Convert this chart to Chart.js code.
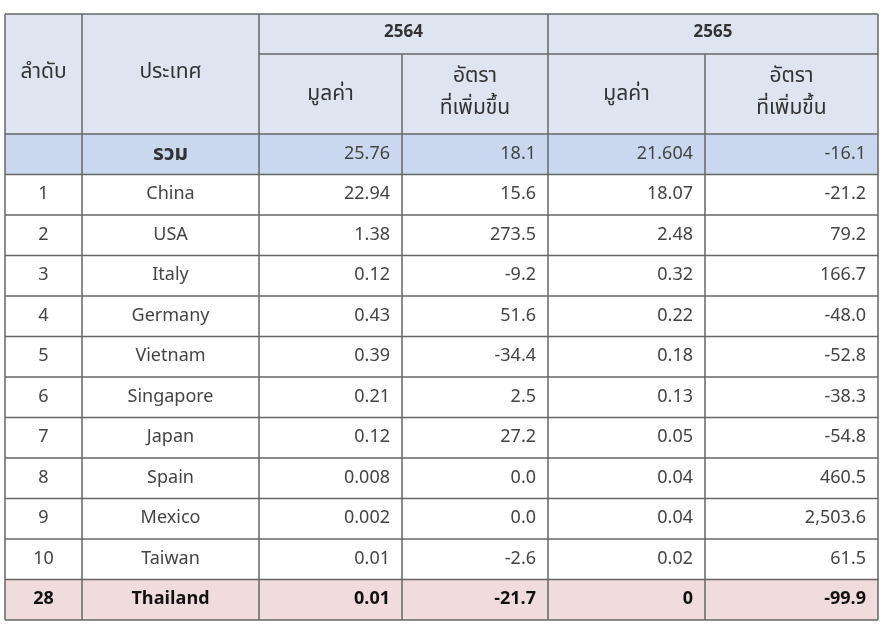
<!DOCTYPE html>
<html><head><meta charset="utf-8">
<script src="https://cdn.jsdelivr.net/npm/chart.js@4/dist/chart.umd.min.js"></script>
<style>html,body{margin:0;padding:0;background:#fff}</style>
</head><body>
<canvas id="c" width="884" height="627"></canvas>
<script>
const ranks = ["", "1","2","3","4","5","6","7","8","9","10","28"];
const countries = ["รวม","China","USA","Italy","Germany","Vietnam","Singapore","Japan","Spain","Mexico","Taiwan","Thailand"];
const value2564 = ["25.76","22.94","1.38","0.12","0.43","0.39","0.21","0.12","0.008","0.002","0.01","0.01"];
const growth2564 = ["18.1","15.6","273.5","-9.2","51.6","-34.4","2.5","27.2","0.0","0.0","-2.6","-21.7"];
const value2565 = ["21.604","18.07","2.48","0.32","0.22","0.18","0.13","0.05","0.04","0.04","0.02","0"];
const growth2565 = ["-16.1","-21.2","79.2","166.7","-48.0","-52.8","-38.3","-54.8","460.5","2,503.6","61.5","-99.9"];
const years = ["2564","2565"];
const headRank = "ลำดับ", headCountry = "ประเทศ", headValue = "มูลค่า", headGrowth = ["อัตรา","ที่เพิ่มขึ้น"];

const colX = [5, 82, 259, 402, 548, 705, 878];
const headY = [14, 54, 134];
const bodyTop = 134, rowH = 40.5;
const FONT = '"Noto Sans Thai","Noto Sans","DejaVu Sans",sans-serif';

const tablePlugin = {
  id: 'table',
  afterDraw(chart) {
    const ctx = chart.ctx, xs = chart.scales.x, ys = chart.scales.y;
    const X = v => xs.getPixelForValue(v), Y = v => ys.getPixelForValue(v);
    const n = countries.length;
    const bottom = bodyTop + rowH * n;
    ctx.save();
    ctx.fillStyle = '#dfe5f0';
    ctx.fillRect(X(colX[0]), Y(headY[0]), X(colX[6]) - X(colX[0]), Y(headY[2]) - Y(headY[0]));
    for (let i = 0; i < n; i++) {
      const y0 = Y(bodyTop + i * rowH), y1 = Y(bodyTop + (i + 1) * rowH);
      if (i === 0) ctx.fillStyle = '#c9d8ee';
      else if (i === n - 1) ctx.fillStyle = '#f0dcdc';
      else continue;
      ctx.fillRect(X(colX[0]), y0, X(colX[6]) - X(colX[0]), y1 - y0);
    }
    ctx.strokeStyle = '#666'; ctx.lineWidth = 1.5;
    const line = (x0, y0, x1, y1) => { ctx.beginPath(); ctx.moveTo(X(x0), Y(y0)); ctx.lineTo(X(x1), Y(y1)); ctx.stroke(); };
    line(colX[0], headY[0], colX[6], headY[0]);
    line(colX[2], headY[1], colX[6], headY[1]);
    for (let i = 0; i <= n; i++) line(colX[0], bodyTop + i * rowH, colX[6], bodyTop + i * rowH);
    [0, 1, 2, 4, 6].forEach(k => line(colX[k], headY[0], colX[k], bottom));
    [3, 5].forEach(k => line(colX[k], headY[1], colX[k], bottom));
    ctx.textBaseline = 'middle';
    ctx.fillStyle = '#333';
    ctx.font = 'bold 17px ' + FONT;
    ctx.textAlign = 'center';
    const cx = k => (X(colX[k]) + X(colX[k + 1])) / 2;
    ctx.fillText(years[0], (X(colX[2]) + X(colX[4])) / 2, Y(34));
    ctx.fillText(years[1], (X(colX[4]) + X(colX[6])) / 2, Y(34));
    ctx.font = '21px ' + FONT;
    ctx.fillText(headRank, cx(0), Y(74));
    ctx.fillText(headCountry, cx(1), Y(74));
    [2, 4].forEach(k => ctx.fillText(headValue, cx(k), Y(96)));
    [3, 5].forEach(k => { ctx.fillText(headGrowth[0], cx(k), Y(78)); ctx.fillText(headGrowth[1], cx(k), Y(110)); });
    for (let i = 0; i < n; i++) {
      const ym = Y(bodyTop + i * rowH + rowH / 2 + 1);
      const bold = i === n - 1;
      ctx.fillStyle = bold ? '#111' : '#444';
      ctx.font = (bold ? 'bold ' : '') + '18px ' + FONT;
      ctx.textAlign = 'center';
      ctx.fillText(ranks[i], cx(0), ym);
      if (i === 0) { ctx.font = 'bold 21px ' + FONT; ctx.fillStyle = '#333'; }
      ctx.fillText(countries[i], cx(1), ym);
      ctx.font = (bold ? 'bold ' : '') + '18px ' + FONT;
      ctx.fillStyle = bold ? '#111' : '#444';
      ctx.textAlign = 'right';
      [value2564, growth2564, value2565, growth2565].forEach((arr, j) => ctx.fillText(arr[i], X(colX[j + 3]) - 12, ym));
    }
    ctx.restore();
  }
};

new Chart(document.getElementById('c'), {
  type: 'scatter',
  data: { datasets: [{ data: [] }] },
  options: {
    responsive: false, animation: false,
    layout: { padding: 0 },
    plugins: { legend: { display: false }, tooltip: { enabled: false } },
    scales: {
      x: { type: 'linear', min: 0, max: 884, display: false },
      y: { type: 'linear', min: 0, max: 627, reverse: true, display: false }
    }
  },
  plugins: [tablePlugin]
});
</script>
</body></html>
